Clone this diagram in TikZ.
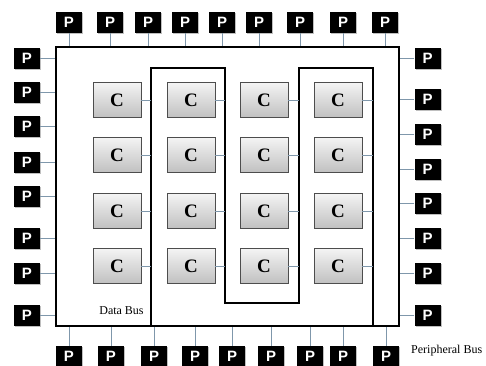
\documentclass[tikz,border=0pt]{standalone}
\usepackage{fontspec}
\setmainfont{Liberation Serif}
\newfontfamily\pfont{Liberation Sans}
\usetikzlibrary{calc,positioning,shadows}
\definecolor{lnkgray}{HTML}{7F97AB}
\definecolor{cedge}{HTML}{4D4D4D}
\definecolor{ctop}{HTML}{F4F4F4}
\definecolor{cbot}{HTML}{C0C0C0}
\tikzset{
  cbx/.style={draw=cedge,line width=0.8pt,top color=ctop,bottom color=cbot,minimum width=48pt,minimum height=35pt,inner sep=0pt,font=\fontsize{19}{19}\selectfont\bfseries},
  pbx/.style={fill=black,text=white,minimum width=26pt,minimum height=21pt,inner sep=0pt,font=\pfont\fontsize{15}{15}\selectfont\bfseries,
    drop shadow={shadow xshift=1pt,shadow yshift=-1pt,fill=gray,opacity=.5}},
  lnk/.style={lnkgray,line width=0.8pt},
  bus/.style={line width=2pt,line join=miter},
}

\begin{document}
\begin{tikzpicture}[x=1pt,y=-1pt]
\useasboundingbox (0,0) rectangle (486,365);
% chip outline = peripheral bus
\node[draw,line width=2pt,minimum width=343pt,minimum height=279pt,inner sep=0pt] (chip) at (227.5,186.5) {};
% data bus
\coordinate (b0) at (151,326); \coordinate (b1) at (151,68);
\coordinate (b2) at (225,68);  \coordinate (b3) at (225,303);
\coordinate (b4) at (299,303); \coordinate (b5) at (299,68);
\coordinate (b6) at (373,68);  \coordinate (b7) at (373,326);
\draw[bus] (b0) -- (b1) -- (b2) -- (b3) -- (b4) -- (b5) -- (b6) -- (b7);
% cores
\node[cbx] (c11) at (117,100) {C}; \node[cbx] (c12) at (191,100) {C}; \node[cbx] (c13) at (264,100) {C}; \node[cbx] (c14) at (338,100) {C};
\node[cbx] (c21) at (117,155) {C}; \node[cbx] (c22) at (191,155) {C}; \node[cbx] (c23) at (264,155) {C}; \node[cbx] (c24) at (338,155) {C};
\node[cbx] (c31) at (117,211) {C}; \node[cbx] (c32) at (191,211) {C}; \node[cbx] (c33) at (264,211) {C}; \node[cbx] (c34) at (338,211) {C};
\node[cbx] (c41) at (117,266) {C}; \node[cbx] (c42) at (191,266) {C}; \node[cbx] (c43) at (264,266) {C}; \node[cbx] (c44) at (338,266) {C};
\draw[lnk] (c11.east) -- (c11.east -| b1); \draw[lnk] (c12.east) -- (c12.east -| b2); \draw[lnk] (c13.east) -- (c13.east -| b4); \draw[lnk] (c14.east) -- (c14.east -| b6);
\draw[lnk] (c21.east) -- (c21.east -| b1); \draw[lnk] (c22.east) -- (c22.east -| b2); \draw[lnk] (c23.east) -- (c23.east -| b4); \draw[lnk] (c24.east) -- (c24.east -| b6);
\draw[lnk] (c31.east) -- (c31.east -| b1); \draw[lnk] (c32.east) -- (c32.east -| b2); \draw[lnk] (c33.east) -- (c33.east -| b4); \draw[lnk] (c34.east) -- (c34.east -| b6);
\draw[lnk] (c41.east) -- (c41.east -| b1); \draw[lnk] (c42.east) -- (c42.east -| b2); \draw[lnk] (c43.east) -- (c43.east -| b4); \draw[lnk] (c44.east) -- (c44.east -| b6);
% peripherals, top
\node[pbx] (pt1) at (69,22.5) {P};  \node[pbx] (pt2) at (110,22.5) {P}; \node[pbx] (pt3) at (148,22.5) {P};
\node[pbx] (pt4) at (185,22.5) {P}; \node[pbx] (pt5) at (222,22.5) {P}; \node[pbx] (pt6) at (259,22.5) {P};
\node[pbx] (pt7) at (300,22.5) {P}; \node[pbx] (pt8) at (343,22.5) {P}; \node[pbx] (pt9) at (385,22.5) {P};
% peripherals, bottom
\node[pbx] (pb1) at (69,356.5) {P};  \node[pbx] (pb2) at (111,356.5) {P}; \node[pbx] (pb3) at (154,356.5) {P};
\node[pbx] (pb4) at (195,356.5) {P}; \node[pbx] (pb5) at (232,356.5) {P}; \node[pbx] (pb6) at (271,356.5) {P};
\node[pbx] (pb7) at (310,356.5) {P}; \node[pbx] (pb8) at (343,356.5) {P}; \node[pbx] (pb9) at (386,356.5) {P};
% peripherals, left
\node[pbx] (pl1) at (27,58) {P};  \node[pbx] (pl2) at (27,92.5) {P}; \node[pbx] (pl3) at (27,126.5) {P}; \node[pbx] (pl4) at (27,162) {P};
\node[pbx] (pl5) at (27,196) {P}; \node[pbx] (pl6) at (27,238) {P};  \node[pbx] (pl7) at (27,273) {P};   \node[pbx] (pl8) at (27,315) {P};
% peripherals, right
\node[pbx] (pr1) at (427.5,58) {P};  \node[pbx] (pr2) at (427.5,99.5) {P}; \node[pbx] (pr3) at (427.5,134.5) {P}; \node[pbx] (pr4) at (427.5,169) {P};
\node[pbx] (pr5) at (427.5,203.5) {P}; \node[pbx] (pr6) at (427.5,238) {P}; \node[pbx] (pr7) at (427.5,273) {P}; \node[pbx] (pr8) at (427.5,315) {P};
% peripheral links
\draw[lnk] (pt1.south) -- (pt1.south |- chip.north); \draw[lnk] (pt2.south) -- (pt2.south |- chip.north); \draw[lnk] (pt3.south) -- (pt3.south |- chip.north);
\draw[lnk] (pt4.south) -- (pt4.south |- chip.north); \draw[lnk] (pt5.south) -- (pt5.south |- chip.north); \draw[lnk] (pt6.south) -- (pt6.south |- chip.north);
\draw[lnk] (pt7.south) -- (pt7.south |- chip.north); \draw[lnk] (pt8.south) -- (pt8.south |- chip.north); \draw[lnk] (pt9.south) -- (pt9.south |- chip.north);
\draw[lnk] (pb1.north) -- (pb1.north |- chip.south); \draw[lnk] (pb2.north) -- (pb2.north |- chip.south); \draw[lnk] (pb3.north) -- (pb3.north |- chip.south);
\draw[lnk] (pb4.north) -- (pb4.north |- chip.south); \draw[lnk] (pb5.north) -- (pb5.north |- chip.south); \draw[lnk] (pb6.north) -- (pb6.north |- chip.south);
\draw[lnk] (pb7.north) -- (pb7.north |- chip.south); \draw[lnk] (pb8.north) -- (pb8.north |- chip.south); \draw[lnk] (pb9.north) -- (pb9.north |- chip.south);
\draw[lnk] (pl1.east) -- (pl1.east -| chip.west); \draw[lnk] (pl2.east) -- (pl2.east -| chip.west); \draw[lnk] (pl3.east) -- (pl3.east -| chip.west); \draw[lnk] (pl4.east) -- (pl4.east -| chip.west);
\draw[lnk] (pl5.east) -- (pl5.east -| chip.west); \draw[lnk] (pl6.east) -- (pl6.east -| chip.west); \draw[lnk] (pl7.east) -- (pl7.east -| chip.west); \draw[lnk] (pl8.east) -- (pl8.east -| chip.west);
\draw[lnk] (pr1.west) -- (pr1.west -| chip.east); \draw[lnk] (pr2.west) -- (pr2.west -| chip.east); \draw[lnk] (pr3.west) -- (pr3.west -| chip.east); \draw[lnk] (pr4.west) -- (pr4.west -| chip.east);
\draw[lnk] (pr5.west) -- (pr5.west -| chip.east); \draw[lnk] (pr6.west) -- (pr6.west -| chip.east); \draw[lnk] (pr7.west) -- (pr7.west -| chip.east); \draw[lnk] (pr8.west) -- (pr8.west -| chip.east);
% labels
\node[font=\fontsize{12}{12}\selectfont] (dbus) at (121.5,311) {Data Bus};
\node[font=\fontsize{12}{12}\selectfont,anchor=west,inner sep=0pt] (pbus) at (411,351) {Peripheral Bus};
\end{tikzpicture}
\end{document}
